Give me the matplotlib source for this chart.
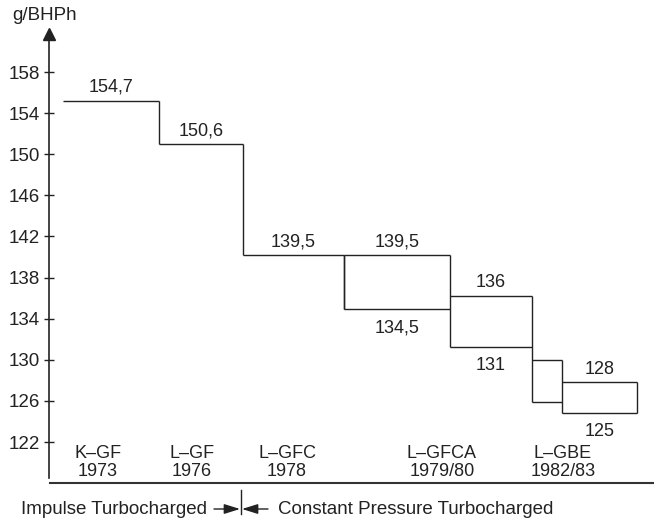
import matplotlib
matplotlib.use('Agg')
import matplotlib.pyplot as plt
from matplotlib.transforms import blended_transform_factory

plt.rcParams['font.family'] = ['Liberation Sans', 'DejaVu Sans']
plt.rcParams['font.size'] = 13

# step chart data (x in arbitrary schematic units, y in g/BHPh)
x_edges = [14, 110, 194, 295, 401, 483, 513, 588]
tops = [155.2, 151.0, 140.2, 140.2, 136.2, 130.0, 127.8]
bottoms = [155.2, 151.0, 140.2, 134.9, 131.2, 125.9, 124.8]

# value labels: text, segment index, above/below
top_labels = ['154,7', '150,6', '139,5', '139,5', '136', None, '128']
bottom_labels = [None, None, None, '134,5', '131', None, '125']

engines = ['K–GF', 'L–GF', 'L–GFC', 'L–GFCA', 'L–GBE']
years = ['1973', '1976', '1978', '1979/80', '1982/83']
engine_x = [49, 143, 238, 393, 514]

yticks = [122, 126, 130, 134, 138, 142, 146, 150, 154, 158]

W, H = 654, 524
fig = plt.figure(figsize=(W / 100, H / 100), dpi=100)
ax = fig.add_axes([49 / W, 46 / H, 605 / W, 444 / H])

line_kw = dict(color='#222222', lw=1.0, solid_capstyle='butt')

# horizontal lines
for i in range(len(tops)):
    x0, x1 = x_edges[i], x_edges[i + 1]
    ax.plot([x0, x1], [tops[i], tops[i]], **line_kw)
    if bottoms[i] != tops[i]:
        ax.plot([x0, x1], [bottoms[i], bottoms[i]], **line_kw)

# vertical lines at the boundaries
for i in range(1, len(x_edges)):
    lo = bottoms[i - 1]
    hi = tops[i - 1]
    if i < len(tops):
        lo = min(lo, bottoms[i])
        hi = max(hi, tops[i])
    if hi != lo:
        ax.plot([x_edges[i], x_edges[i]], [lo, hi], **line_kw)
# left edge of the first box
ax.plot([x_edges[3], x_edges[3]], [bottoms[3], tops[3]], **line_kw)

# value labels
for i in range(len(tops)):
    xc = (x_edges[i] + x_edges[i + 1]) / 2
    if top_labels[i]:
        ax.annotate(top_labels[i], (xc, tops[i]), xytext=(0, 3.5),
                    textcoords='offset points', ha='center', va='bottom',
                    color='#222222')
    if bottom_labels[i]:
        ax.annotate(bottom_labels[i], (xc, bottoms[i]), xytext=(0, -7),
                    textcoords='offset points', ha='center', va='top',
                    color='#222222')

# engine names and years along the bottom
trans = blended_transform_factory(ax.transData, ax.transAxes)
for xe, name, yr in zip(engine_x, engines, years):
    ax.text(xe, 0.055, name, transform=trans, ha='center', va='center',
            color='#222222')
    ax.text(xe, 0.014, yr, transform=trans, ha='center', va='center',
            color='#222222')

ax.set_xlim(0, 605)
ax.set_ylim(118.5, 161.7)
ax.set_yticks(yticks)
ax.set_xticks([])
for s in ['top', 'right', 'bottom']:
    ax.spines[s].set_visible(False)
ax.spines['left'].set_color('#222222')
ax.spines['left'].set_linewidth(1.2)
ax.tick_params(axis='y', direction='inout', length=7.5, width=1.0,
               colors='#222222', labelsize=13.5, pad=3)
ax.patch.set_alpha(0)

# arrow head on top of the y axis
ax.plot([0], [1], marker='^', markersize=8, color='#222222',
        transform=ax.transAxes, clip_on=False)

fig.text(45 / W, 1 - 15 / H, 'g/BHPh', ha='center', va='center',
         color='#222222', fontsize=13.5)

# baseline below the chart
fig.add_artist(plt.Line2D([50 / W, 1], [1 - 483 / H, 1 - 483 / H],
                          color='#333333', lw=1.5))

# turbocharging note
ty = 1 - 509 / H
fig.text(207 / W, ty, 'Impulse Turbocharged', ha='right', va='center',
         color='#222222', fontsize=13.5)
fig.text(278 / W, ty, 'Constant Pressure Turbocharged', ha='left',
         va='center', color='#222222', fontsize=13.5)
fig.add_artist(plt.Line2D([241 / W, 241 / W], [1 - 490 / H, 1 - 514 / H],
                          color='#222222', lw=1.0))
arrow_kw = dict(arrowstyle='-|>,head_length=0.8,head_width=0.25',
                color='#222222', lw=1.0,
                mutation_scale=12, shrinkA=0, shrinkB=0)
fig.add_artist(matplotlib.patches.FancyArrowPatch(
    (214 / W, ty), (240 / W, ty), transform=fig.transFigure, **arrow_kw))
fig.add_artist(matplotlib.patches.FancyArrowPatch(
    (268 / W, ty), (242 / W, ty), transform=fig.transFigure, **arrow_kw))

fig.savefig('out.png', dpi=100)
